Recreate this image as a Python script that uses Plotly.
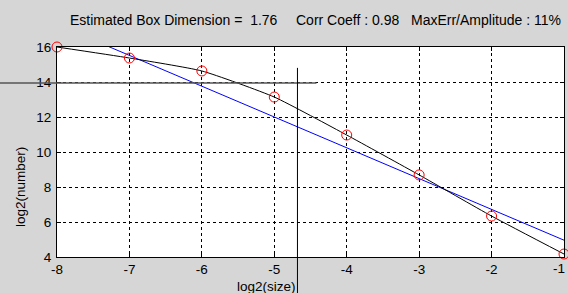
import plotly.graph_objects as go

# Data
log2_size = [-8, -7, -6, -5, -4, -3, -2, -1]
log2_number = [16.0, 15.37, 14.63, 13.14, 10.97, 8.69, 6.34, 4.17]
fit_slope = -1.76
fit_at_minus5 = 12.0
fit_y = [fit_at_minus5 + fit_slope * (x + 5) for x in log2_size]

x_ticks = [-8, -7, -6, -5, -4, -3, -2, -1]
x_tick_labels = ["-8", "-7", "-6", "-5", "-4", "-3", "-2", "-1"]
y_ticks = [4, 6, 8, 10, 12, 14, 16]
x_range = [-8, -1]
y_range = [4, 16]

title_parts = ["Estimated Box Dimension =  1.76", "Corr Coeff : 0.98", "MaxErr/Amplitude : 11%"]
cursor_x, cursor_y = -4.68, 13.95

W, H = 568, 293
ml, mr, mt, mb = 57, 4, 47, 36
pw, ph = W - ml - mr, H - mt - mb

def px(x):
    return (x - x_range[0]) / (x_range[1] - x_range[0])

def py(y):
    return (y - y_range[0]) / (y_range[1] - y_range[0])

FONT = "Liberation Sans, Arial, sans-serif"
BG = "#d6d6d6"

fig = go.Figure()
fig.add_trace(go.Scatter(x=log2_size, y=fit_y, mode="lines",
                         line=dict(color="#0000ff", width=1), hoverinfo="skip"))
fig.add_trace(go.Scatter(x=log2_size, y=log2_number, mode="lines",
                         line=dict(color="black", width=1, shape="spline", smoothing=0.5),
                         hoverinfo="skip"))
fig.add_trace(go.Scatter(x=log2_size, y=log2_number, mode="markers", cliponaxis=False,
                         marker=dict(symbol="circle-open", size=10, color="#ff0000",
                                     line=dict(width=1, color="#ff0000"))))

# crosshair (cursor)
fig.add_shape(type="line", xref="paper", yref="paper",
              x0=-ml / pw, x1=px(cursor_x) + 19 / pw, y0=py(cursor_y), y1=py(cursor_y),
              line=dict(color="#555555", width=1.5))
fig.add_shape(type="line", xref="paper", yref="paper",
              x0=px(cursor_x), x1=px(cursor_x), y0=py(cursor_y) + 15 / ph, y1=-mb / ph,
              line=dict(color="black", width=1))

axis_common = dict(showgrid=True, gridcolor="black", griddash="3px,3px", gridwidth=1,
                   showline=True, linecolor="black", linewidth=1, mirror="ticks",
                   ticks="inside", ticklen=4, tickcolor="black", zeroline=False,
                   ticklabeloverflow="allow", automargin=False,
                   tickfont=dict(family=FONT, size=13.5, color="black"))

# last x tick label is drawn as an annotation so it stays inside the page edge
fig.update_xaxes(range=x_range, tickvals=x_ticks,
                 ticktext=x_tick_labels[:-1] + [""], **axis_common)
fig.update_yaxes(range=y_range, tickvals=y_ticks, ticklabelstandoff=2, **axis_common)

annotations = [
    dict(text=title_parts[0], x=68, y=20, xanchor="left", size=14),
    dict(text=title_parts[1], x=294, y=20, xanchor="left", size=14),
    dict(text=title_parts[2], x=563, y=20, xanchor="right", size=14),
    dict(text="log2(size)", x=266, y=286, xanchor="center", size=13.5),
    dict(text=x_tick_labels[-1], x=567, y=268, xanchor="right", size=13.5),
]
ann = []
for a in annotations:
    ann.append(dict(text=a["text"], xref="paper", yref="paper",
                    x=(a["x"] - ml) / pw, y=(H - mb - a["y"]) / ph,
                    xanchor=a["xanchor"], yanchor="middle", showarrow=False,
                    font=dict(family=FONT, size=a["size"], color="black")))
ann.append(dict(text="log2(number)", xref="paper", yref="paper",
                x=(20 - ml) / pw, y=(H - mb - 187) / ph, textangle=-90,
                xanchor="center", yanchor="middle", showarrow=False,
                font=dict(family=FONT, size=13.5, color="black")))

fig.update_layout(width=W, height=H, margin=dict(l=ml, r=mr, t=mt, b=mb, autoexpand=False),
                  paper_bgcolor=BG, plot_bgcolor="white", showlegend=False,
                  annotations=ann)

fig.write_html("out.html", config={"displayModeBar": False},
               post_script="document.body.style.margin='0';document.body.style.background='%s';" % BG)
